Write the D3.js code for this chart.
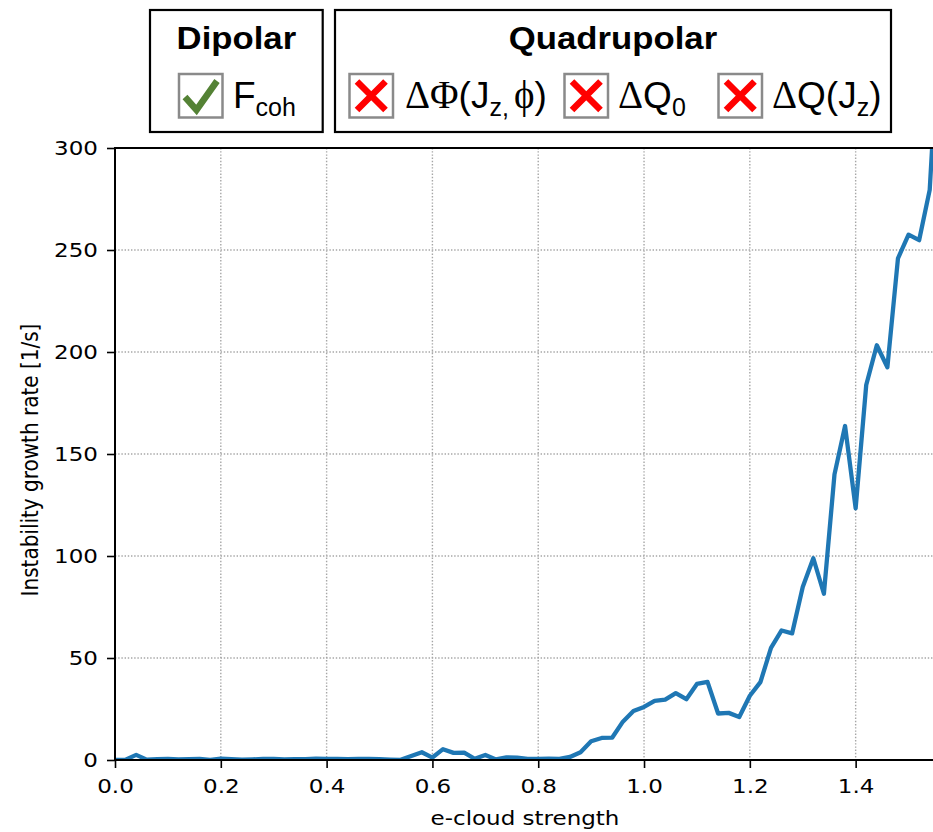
<!DOCTYPE html>
<html>
<head>
<meta charset="utf-8">
<script src="https://cdn.jsdelivr.net/npm/d3@7"></script>
<style>
  html, body { margin: 0; padding: 0; background: #fff; }
  svg { display: block; }
</style>
</head>
<body>
<svg id="chart" width="933" height="832"></svg>
<script>
// ---------------- data ----------------
const eCloudStrength = [
  0.00, 0.02, 0.04, 0.06, 0.08, 0.10, 0.12, 0.14, 0.16, 0.18,
  0.20, 0.22, 0.24, 0.26, 0.28, 0.30, 0.32, 0.34, 0.36, 0.38,
  0.40, 0.42, 0.44, 0.46, 0.48, 0.50, 0.52, 0.54, 0.56, 0.58,
  0.60, 0.62, 0.64, 0.66, 0.68, 0.70, 0.72, 0.74, 0.76, 0.78,
  0.80, 0.82, 0.84, 0.86, 0.88, 0.90, 0.92, 0.94, 0.96, 0.98,
  1.00, 1.02, 1.04, 1.06, 1.08, 1.10, 1.12, 1.14, 1.16, 1.18,
  1.20, 1.22, 1.24, 1.26, 1.28, 1.30, 1.32, 1.34, 1.36, 1.38,
  1.40, 1.42, 1.44, 1.46, 1.48, 1.50, 1.52, 1.54, 1.56
];
const growthRate = [
  0.0, 0.2, 2.5, 0.2, 0.4, 0.5, 0.3, 0.4, 0.5, 0.1,
  0.7, 0.4, 0.2, 0.3, 0.5, 0.5, 0.3, 0.4, 0.4, 0.7,
  0.5, 0.5, 0.4, 0.5, 0.5, 0.4, 0.2, 0.1, 2.0, 3.8,
  1.2, 5.3, 3.5, 3.6, 0.6, 2.5, 0.3, 1.3, 1.2, 0.5,
  0.5, 0.7, 0.6, 1.5, 3.8, 9.2, 10.8, 11.0, 18.8, 24.0,
  26.0, 29.0, 29.6, 32.8, 29.8, 37.3, 38.3, 22.8, 23.1, 21.1,
  31.5, 38.2, 55.0, 63.5, 62.1, 84.8, 98.9, 81.5, 140.0, 163.7,
  123.4, 183.8, 203.3, 192.5, 245.9, 257.5, 254.8, 279.5, 370.0
];
const xTickValues = [0.0, 0.2, 0.4, 0.6, 0.8, 1.0, 1.2, 1.4];
const yTickValues = [0, 50, 100, 150, 200, 250, 300];
const xLabel = "e-cloud strength";
const yLabel = "Instability growth rate [1/s]";
const dipolarTitle = "Dipolar";
const quadrupolarTitle = "Quadrupolar";

// ---------------- layout ----------------
const svg = d3.select("#chart");
const L = 115, R = 935, T = 148, B = 760;
const SX = 1.15; // horizontal stretch of text seen in the reference
const tickFont = "'DejaVu Sans', sans-serif";
const legendFont = "'Liberation Sans', Arial, sans-serif";
const serifFont = "'Liberation Serif', 'Times New Roman', serif";

const x = d3.scaleLinear().domain([0, 1.55]).range([L, R]);
const y = d3.scaleLinear().domain([0, 300]).range([B, T]);

// grid
const grid = svg.append("g");
grid.selectAll("line.gx").data(xTickValues.filter(d => d > 0)).join("line")
  .attr("x1", d => x(d)).attr("x2", d => x(d)).attr("y1", T).attr("y2", B)
  .attr("stroke", "#a6a6a6").attr("stroke-width", 1.4).attr("stroke-dasharray", "1.4,1.8");
grid.selectAll("line.gy").data(yTickValues.filter(d => d > 0 && d < 300)).join("line")
  .attr("x1", L).attr("x2", R).attr("y1", d => y(d)).attr("y2", d => y(d))
  .attr("stroke", "#a6a6a6").attr("stroke-width", 1.4).attr("stroke-dasharray", "1.4,1.8");

// clip
svg.append("defs").append("clipPath").attr("id", "plotclip")
  .append("rect").attr("x", L).attr("y", T).attr("width", R - L).attr("height", B - T);

// line
const line = d3.line().x((d, i) => x(eCloudStrength[i])).y(d => y(d));
svg.append("path").datum(growthRate)
  .attr("clip-path", "url(#plotclip)")
  .attr("d", line)
  .attr("fill", "none").attr("stroke", "#1f77b4").attr("stroke-width", 4.3)
  .attr("stroke-linejoin", "round");

// spines
svg.append("rect").attr("x", L).attr("y", T).attr("width", R - L).attr("height", B - T)
  .attr("fill", "none").attr("stroke", "#000").attr("stroke-width", 2);

// axes
const xAxis = svg.append("g").attr("transform", `translate(0,${B})`)
  .call(d3.axisBottom(x).tickValues(xTickValues).tickFormat(d3.format(".1f")).tickSize(8).tickPadding(11));
xAxis.select(".domain").remove();
xAxis.selectAll(".tick line").attr("stroke", "#000").attr("stroke-width", 1.6);
xAxis.selectAll(".tick text").attr("font-family", tickFont).attr("font-size", 20)
  .attr("fill", "#000").attr("transform", `scale(${SX},1)`);

const yAxis = svg.append("g").attr("transform", `translate(${L},0)`)
  .call(d3.axisLeft(y).tickValues(yTickValues).tickFormat(d3.format("d")).tickSize(8));
yAxis.select(".domain").remove();
yAxis.selectAll(".tick line").attr("stroke", "#000").attr("stroke-width", 1.6);
yAxis.selectAll(".tick text").attr("font-family", tickFont).attr("font-size", 20)
  .attr("fill", "#000").attr("x", -17 / SX).attr("transform", `scale(${SX},1)`);

// axis labels
svg.append("text").text(xLabel)
  .attr("transform", `translate(${(L + R) / 2},825) scale(${SX},1)`)
  .attr("text-anchor", "middle").attr("font-family", tickFont).attr("font-size", 20).attr("fill", "#000");
svg.append("text").text(yLabel)
  .attr("transform", `translate(38,${(T + B) / 2 + 6}) scale(${SX},1) rotate(-90)`)
  .attr("text-anchor", "middle").attr("font-family", tickFont).attr("font-size", 20).attr("fill", "#000");

// ---------------- legend ----------------
const leg = svg.append("g");
const boxes = [
  { x0: 150, x1: 322.7, title: dipolarTitle },
  { x0: 335, x1: 891, title: quadrupolarTitle }
];
boxes.forEach(b => {
  leg.append("rect").attr("x", b.x0).attr("y", 10).attr("width", b.x1 - b.x0).attr("height", 122)
    .attr("fill", "#fff").attr("stroke", "#000").attr("stroke-width", 2.2);
  leg.append("text").text(b.title)
    .attr("transform", `translate(${(b.x0 + b.x1) / 2},49) scale(1.12,1)`)
    .attr("text-anchor", "middle").attr("font-family", legendFont).attr("font-weight", "bold")
    .attr("font-size", 31).attr("fill", "#000");
});

function checkbox(x0, ok) {
  const s = 43.5, y0 = 74;
  leg.append("rect").attr("x", x0).attr("y", y0).attr("width", s).attr("height", s)
    .attr("fill", "#fff").attr("stroke", "#8a8a8a").attr("stroke-width", 2.5);
  if (ok) {
    leg.append("path")
      .attr("d", `M${x0 + 6},${y0 + 23} L${x0 + 17.5},${y0 + 36} L${x0 + 38},${y0 + 7}`)
      .attr("fill", "none").attr("stroke", "#548235").attr("stroke-width", 6.5);
  } else {
    leg.append("path")
      .attr("d", `M${x0 + 7.5},${y0 + 7.5} L${x0 + 36},${y0 + 36} M${x0 + 36},${y0 + 7.5} L${x0 + 7.5},${y0 + 36}`)
      .attr("fill", "none").attr("stroke", "#ff0000").attr("stroke-width", 6.5);
  }
}
checkbox(179, true);
checkbox(349.5, false);
checkbox(564.5, false);
checkbox(718.5, false);

const base = 107.5;
function legText(x0, parts) {
  const t = leg.append("text").attr("x", x0).attr("y", base).attr("fill", "#000")
    .attr("font-family", legendFont).attr("font-size", 37);
  parts.forEach(p => {
    const ts = t.append("tspan").text(p.t);
    if (p.serif) ts.attr("font-family", serifFont).attr("font-size", 39);
    if (p.sub) ts.attr("font-size", 25).attr("dy", 8);
    if (p.up) ts.attr("dy", -8);
    if (p.dx) ts.attr("dx", p.dx);
  });
}
legText(233, [{ t: "F" }, { t: "coh", sub: true }]);
legText(405, [{ t: "\u0394", serif: true }, { t: "\u03A6", serif: true }, { t: "(J" },
  { t: "z,", sub: true }, { t: "\u03D5", serif: true, up: true, dx: 5 }, { t: ")" }]);
legText(618, [{ t: "\u0394", serif: true }, { t: "Q" }, { t: "0", sub: true }]);
legText(772, [{ t: "\u0394", serif: true }, { t: "Q(J" }, { t: "z", sub: true }, { t: ")", up: true }]);
</script>
</body>
</html>
